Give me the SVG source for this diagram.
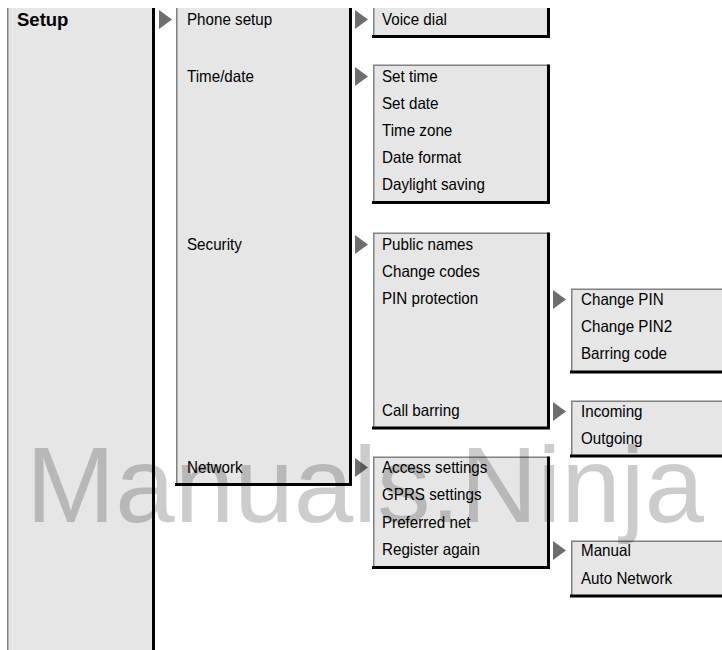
<svg xmlns="http://www.w3.org/2000/svg" width="722" height="650" viewBox="0 0 722 650">
<style>
.fill{fill:#e6e6e6;stroke:none}
.lt{fill:none;stroke:#808080;stroke-width:1.5}
.dk{fill:none;stroke:#000;stroke-width:3}
.t{font-family:"Liberation Sans",Arial,sans-serif;font-size:16.5px;fill:#000;transform-box:fill-box;transform-origin:0 50%;transform:scaleX(0.92)}
.b{font-weight:bold;font-size:18.5px;transform:none}
.arr{fill:#6e6e6e}
.wm{font-family:"Liberation Sans",Arial,sans-serif;font-size:107px;fill:#000;fill-opacity:0.2}
</style>
<rect width="722" height="650" fill="#fff"/>
<g id="setup">
<rect class="fill" x="7" y="8" width="146" height="642"/>
<path class="lt" d="M7.75,8V650"/>
<path class="dk" d="M153.5,8V650"/>
<text class="t b" x="17" y="25.5">Setup</text>
</g>
<g id="level2">
<rect class="fill" x="176" y="8" width="174" height="476"/>
<path class="lt" d="M176.75,8V484"/>
<path class="dk" d="M350.5,8V484.5M175,484.5H352"/>
<text class="t" x="187" y="25">Phone setup</text>
<text class="t" x="187" y="82">Time/date</text>
<text class="t" x="187" y="250">Security</text>
<text class="t" x="187" y="473">Network</text>
</g>
<g id="phone-setup-menu">
<rect class="fill" x="373" y="8" width="175" height="29"/>
<path class="lt" d="M373.75,8V37"/>
<path class="dk" d="M548.5,8V37M372,36.5H550"/>
<text class="t" x="382" y="25">Voice dial</text>
</g>
<g id="time-date-menu">
<rect class="fill" x="373" y="65" width="175" height="138"/>
<path class="lt" d="M373.75,203V65.25H548"/>
<path class="dk" d="M548.5,64.5V203M372,202.5H550"/>
<text class="t" x="382" y="82">Set time</text>
<text class="t" x="382" y="109">Set date</text>
<text class="t" x="382" y="136">Time zone</text>
<text class="t" x="382" y="163">Date format</text>
<text class="t" x="382" y="190">Daylight saving</text>
</g>
<g id="security-menu">
<rect class="fill" x="373" y="233" width="175" height="195"/>
<path class="lt" d="M373.75,428V233.25H548"/>
<path class="dk" d="M548.5,232.5V428M372,428H550"/>
<text class="t" x="382" y="250">Public names</text>
<text class="t" x="382" y="277">Change codes</text>
<text class="t" x="382" y="304">PIN protection</text>
<text class="t" x="382" y="416">Call barring</text>
</g>
<g id="pin-menu">
<rect class="fill" x="571" y="289" width="160" height="83"/>
<path class="lt" d="M571.75,372V289.25H731"/>
<path class="dk" d="M570,372H731"/>
<text class="t" x="581" y="305">Change PIN</text>
<text class="t" x="581" y="332">Change PIN2</text>
<text class="t" x="581" y="359">Barring code</text>
</g>
<g id="call-barring-menu">
<rect class="fill" x="571" y="401" width="160" height="55"/>
<path class="lt" d="M571.75,456V401.25H731"/>
<path class="dk" d="M570,456H731"/>
<text class="t" x="581" y="417">Incoming</text>
<text class="t" x="581" y="444">Outgoing</text>
</g>
<g id="network-menu">
<rect class="fill" x="373" y="457" width="175" height="111"/>
<path class="lt" d="M373.75,568V457.25H548"/>
<path class="dk" d="M548.5,456.5V568M372,567.5H550"/>
<text class="t" x="382" y="473">Access settings</text>
<text class="t" x="382" y="500">GPRS settings</text>
<text class="t" x="382" y="528">Preferred net</text>
<text class="t" x="382" y="555">Register again</text>
</g>
<g id="register-menu">
<rect class="fill" x="571" y="541" width="160" height="55"/>
<path class="lt" d="M571.75,596V541.25H731"/>
<path class="dk" d="M570,596H731"/>
<text class="t" x="581" y="556">Manual</text>
<text class="t" x="581" y="584">Auto Network</text>
</g>
<g id="connectors">
<polygon class="arr" points="159,10 172,19.5 159,29"/>
<polygon class="arr" points="355,10 368,19.5 355,29"/>
<polygon class="arr" points="355,67 368,76.5 355,86"/>
<polygon class="arr" points="355,235 368,244.5 355,254"/>
<polygon class="arr" points="355,458 368,467.5 355,477"/>
<polygon class="arr" points="553,290 566,299.5 553,309"/>
<polygon class="arr" points="553,402 566,411.5 553,421"/>
<polygon class="arr" points="553,541 566,550.5 553,560"/>
</g>
<text class="wm" x="26" y="522">Manuals.Ninja</text>
</svg>
